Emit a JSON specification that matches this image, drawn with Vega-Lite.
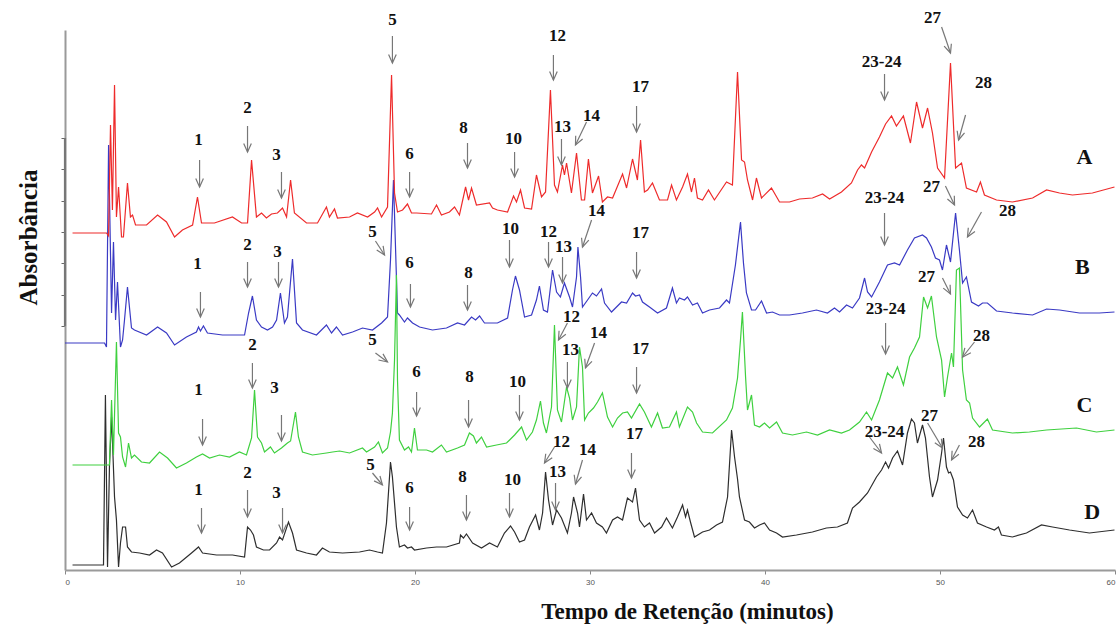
{
"$schema": "https://vega.github.io/schema/vega-lite/v6.json",
"width": 1050, "height": 540,
"autosize": {"type": "none"},
"padding": {"left": 65, "top": 30, "right": 3, "bottom": 57},
"background": "white",
"config": {
 "view": {"stroke": null},
 "axisX": {"grid": false, "domainColor": "#9a9a9a", "domainWidth": 2, "tickColor": "#888", "tickSize": 4, "labelFont": "Liberation Sans", "labelFontSize": 8, "labelColor": "#555", "labelPadding": 4, "titleFont": "Liberation Serif", "titleFontSize": 23, "titleFontWeight": "bold", "titleColor": "#111", "titleX": 622, "titleY": 41, "titleAlign": "center", "titleBaseline": "middle"},
 "axisY": {"grid": false, "domainColor": "#9a9a9a", "domainWidth": 2, "tickColor": "#666", "tickSize": 4, "labels": false, "titleFont": "Liberation Serif", "titleFontSize": 25, "titleFontWeight": "bold", "titleColor": "#111", "titleX": -37, "titleY": 207, "titleAngle": -90, "titleAlign": "center", "titleBaseline": "middle"}
},
"datasets": {
 "A": [{"t":0.43,"v":337},{"t":2.37,"v":337},{"t":2.49,"v":334},{"t":2.6,"v":445},{"t":2.71,"v":360},{"t":2.83,"v":485},{"t":2.94,"v":353},{"t":3.06,"v":383},{"t":3.23,"v":333},{"t":3.34,"v":333},{"t":3.57,"v":387},{"t":3.74,"v":353},{"t":3.86,"v":355},{"t":4.03,"v":345},{"t":4.66,"v":345},{"t":5.29,"v":355},{"t":5.8,"v":348},{"t":6.26,"v":333},{"t":6.71,"v":340},{"t":7.29,"v":345},{"t":7.57,"v":373},{"t":7.8,"v":347},{"t":8.54,"v":347},{"t":9.57,"v":353},{"t":10.09,"v":347},{"t":10.43,"v":347},{"t":10.66,"v":410},{"t":10.94,"v":353},{"t":11.23,"v":357},{"t":11.51,"v":352},{"t":11.8,"v":356},{"t":12.14,"v":357},{"t":12.43,"v":362},{"t":12.66,"v":353},{"t":12.89,"v":390},{"t":13.11,"v":357},{"t":13.8,"v":347},{"t":14.43,"v":347},{"t":14.94,"v":363},{"t":15.11,"v":353},{"t":15.4,"v":361},{"t":15.57,"v":352},{"t":16.26,"v":353},{"t":16.71,"v":357},{"t":17.29,"v":353},{"t":17.69,"v":358},{"t":17.86,"v":362},{"t":18.09,"v":353},{"t":18.43,"v":363},{"t":18.66,"v":495},{"t":18.83,"v":377},{"t":19.0,"v":358},{"t":19.29,"v":360},{"t":19.57,"v":366},{"t":19.8,"v":357},{"t":20.09,"v":357},{"t":20.94,"v":356},{"t":21.23,"v":365},{"t":21.51,"v":355},{"t":21.97,"v":358},{"t":22.26,"v":363},{"t":22.54,"v":355},{"t":22.89,"v":383},{"t":23.06,"v":370},{"t":23.23,"v":382},{"t":23.51,"v":365},{"t":24.26,"v":367},{"t":24.43,"v":362},{"t":24.71,"v":360},{"t":25.29,"v":358},{"t":25.63,"v":374},{"t":25.8,"v":368},{"t":26.03,"v":380},{"t":26.26,"v":362},{"t":26.66,"v":361},{"t":26.94,"v":395},{"t":27.23,"v":373},{"t":27.46,"v":378},{"t":27.74,"v":480},{"t":27.97,"v":385},{"t":28.14,"v":378},{"t":28.43,"v":405},{"t":28.54,"v":395},{"t":28.66,"v":407},{"t":28.94,"v":377},{"t":29.23,"v":417},{"t":29.51,"v":370},{"t":29.69,"v":370},{"t":29.91,"v":411},{"t":30.14,"v":377},{"t":30.49,"v":394},{"t":30.71,"v":368},{"t":31.0,"v":373},{"t":31.29,"v":372},{"t":31.86,"v":396},{"t":32.09,"v":382},{"t":32.43,"v":411},{"t":32.71,"v":390},{"t":32.89,"v":430},{"t":33.11,"v":378},{"t":33.29,"v":380},{"t":33.57,"v":387},{"t":33.97,"v":370},{"t":34.43,"v":370},{"t":34.66,"v":385},{"t":34.94,"v":370},{"t":35.29,"v":383},{"t":35.57,"v":396},{"t":35.8,"v":378},{"t":35.97,"v":392},{"t":36.14,"v":372},{"t":36.43,"v":370},{"t":36.77,"v":380},{"t":37.11,"v":370},{"t":37.8,"v":388},{"t":38.14,"v":385},{"t":38.43,"v":498},{"t":38.66,"v":410},{"t":38.83,"v":408},{"t":39.0,"v":390},{"t":39.29,"v":370},{"t":39.51,"v":392},{"t":39.8,"v":372},{"t":40.37,"v":382},{"t":40.83,"v":368},{"t":41.4,"v":368},{"t":41.97,"v":371},{"t":42.71,"v":372},{"t":43.29,"v":376},{"t":43.69,"v":371},{"t":44.37,"v":378},{"t":44.94,"v":387},{"t":45.29,"v":400},{"t":45.51,"v":405},{"t":45.69,"v":402},{"t":46.09,"v":418},{"t":46.54,"v":433},{"t":46.89,"v":446},{"t":47.23,"v":454},{"t":47.51,"v":444},{"t":47.91,"v":454},{"t":48.31,"v":427},{"t":48.66,"v":468},{"t":49.0,"v":442},{"t":49.29,"v":462},{"t":49.57,"v":437},{"t":49.86,"v":402},{"t":50.26,"v":392},{"t":50.6,"v":507},{"t":50.89,"v":402},{"t":51.23,"v":407},{"t":51.51,"v":382},{"t":52.09,"v":378},{"t":52.31,"v":388},{"t":52.54,"v":375},{"t":53.23,"v":370},{"t":54.14,"v":368},{"t":55.29,"v":372},{"t":56.09,"v":380},{"t":56.83,"v":377},{"t":57.57,"v":375},{"t":58.71,"v":377},{"t":59.97,"v":383}],
 "B": [{"t":0.0,"v":227},{"t":2.26,"v":227},{"t":2.37,"v":223},{"t":2.49,"v":425},{"t":2.66,"v":257},{"t":2.77,"v":328},{"t":2.89,"v":250},{"t":3.0,"v":288},{"t":3.17,"v":223},{"t":3.29,"v":230},{"t":3.4,"v":250},{"t":3.57,"v":283},{"t":3.8,"v":242},{"t":3.97,"v":240},{"t":4.66,"v":235},{"t":5.29,"v":243},{"t":5.8,"v":237},{"t":6.26,"v":225},{"t":6.94,"v":233},{"t":7.51,"v":238},{"t":7.63,"v":243},{"t":7.74,"v":239},{"t":7.91,"v":244},{"t":8.14,"v":237},{"t":9.0,"v":235},{"t":10.26,"v":235},{"t":10.49,"v":257},{"t":10.71,"v":274},{"t":10.94,"v":250},{"t":11.23,"v":243},{"t":11.57,"v":240},{"t":11.86,"v":243},{"t":12.09,"v":250},{"t":12.31,"v":277},{"t":12.54,"v":247},{"t":12.71,"v":253},{"t":13.0,"v":311},{"t":13.23,"v":247},{"t":13.57,"v":240},{"t":14.37,"v":235},{"t":14.94,"v":245},{"t":15.23,"v":237},{"t":15.51,"v":243},{"t":15.86,"v":235},{"t":16.43,"v":238},{"t":17.0,"v":242},{"t":17.57,"v":240},{"t":18.09,"v":247},{"t":18.43,"v":253},{"t":18.6,"v":310},{"t":18.77,"v":390},{"t":19.0,"v":257},{"t":19.11,"v":255},{"t":19.4,"v":248},{"t":19.57,"v":252},{"t":19.86,"v":247},{"t":20.26,"v":243},{"t":21.0,"v":240},{"t":21.8,"v":242},{"t":22.43,"v":247},{"t":22.83,"v":245},{"t":23.23,"v":253},{"t":23.46,"v":250},{"t":23.69,"v":254},{"t":23.97,"v":247},{"t":24.71,"v":247},{"t":25.29,"v":252},{"t":25.57,"v":280},{"t":25.74,"v":294},{"t":25.97,"v":280},{"t":26.26,"v":253},{"t":26.66,"v":255},{"t":26.94,"v":270},{"t":27.11,"v":284},{"t":27.34,"v":260},{"t":27.57,"v":258},{"t":27.86,"v":300},{"t":28.09,"v":278},{"t":28.31,"v":273},{"t":28.54,"v":287},{"t":28.83,"v":273},{"t":29.0,"v":263},{"t":29.23,"v":293},{"t":29.31,"v":323},{"t":29.46,"v":293},{"t":29.57,"v":263},{"t":29.86,"v":270},{"t":30.14,"v":277},{"t":30.37,"v":274},{"t":30.66,"v":281},{"t":30.83,"v":267},{"t":31.23,"v":258},{"t":31.8,"v":268},{"t":32.09,"v":267},{"t":32.43,"v":277},{"t":32.6,"v":274},{"t":32.83,"v":275},{"t":33.0,"v":268},{"t":33.4,"v":263},{"t":33.86,"v":257},{"t":34.37,"v":262},{"t":34.71,"v":282},{"t":34.94,"v":267},{"t":35.11,"v":272},{"t":35.4,"v":270},{"t":35.57,"v":273},{"t":35.86,"v":265},{"t":36.14,"v":267},{"t":36.43,"v":257},{"t":36.83,"v":260},{"t":37.4,"v":262},{"t":37.8,"v":270},{"t":37.97,"v":267},{"t":38.31,"v":305},{"t":38.6,"v":348},{"t":38.77,"v":307},{"t":38.94,"v":277},{"t":39.23,"v":260},{"t":39.46,"v":260},{"t":39.8,"v":269},{"t":40.09,"v":257},{"t":40.43,"v":258},{"t":40.83,"v":255},{"t":41.4,"v":255},{"t":42.14,"v":257},{"t":42.94,"v":260},{"t":43.57,"v":257},{"t":43.97,"v":262},{"t":44.26,"v":258},{"t":44.66,"v":265},{"t":45.0,"v":262},{"t":45.4,"v":272},{"t":45.69,"v":292},{"t":45.86,"v":278},{"t":46.09,"v":273},{"t":46.54,"v":288},{"t":47.0,"v":305},{"t":47.4,"v":307},{"t":47.69,"v":305},{"t":48.14,"v":320},{"t":48.54,"v":332},{"t":49.0,"v":335},{"t":49.23,"v":332},{"t":49.51,"v":323},{"t":49.74,"v":312},{"t":49.97,"v":310},{"t":50.14,"v":300},{"t":50.37,"v":325},{"t":50.6,"v":308},{"t":50.89,"v":357},{"t":51.11,"v":320},{"t":51.29,"v":287},{"t":51.51,"v":293},{"t":51.8,"v":268},{"t":52.2,"v":264},{"t":52.43,"v":267},{"t":52.71,"v":267},{"t":53.23,"v":259},{"t":54.14,"v":257},{"t":55.29,"v":255},{"t":56.09,"v":261},{"t":56.83,"v":260},{"t":57.97,"v":257},{"t":59.11,"v":257},{"t":59.97,"v":258}],
 "C": [{"t":0.43,"v":105},{"t":2.54,"v":105},{"t":2.66,"v":170},{"t":2.77,"v":115},{"t":2.94,"v":228},{"t":3.06,"v":137},{"t":3.17,"v":133},{"t":3.29,"v":113},{"t":3.46,"v":103},{"t":3.63,"v":127},{"t":3.8,"v":112},{"t":3.97,"v":115},{"t":4.37,"v":108},{"t":4.83,"v":107},{"t":5.4,"v":118},{"t":5.86,"v":112},{"t":6.37,"v":102},{"t":6.94,"v":107},{"t":7.51,"v":113},{"t":7.86,"v":116},{"t":8.26,"v":112},{"t":8.83,"v":115},{"t":9.4,"v":113},{"t":9.97,"v":118},{"t":10.37,"v":115},{"t":10.66,"v":132},{"t":10.83,"v":180},{"t":11.0,"v":133},{"t":11.23,"v":127},{"t":11.4,"v":118},{"t":11.74,"v":123},{"t":11.97,"v":117},{"t":12.37,"v":122},{"t":12.71,"v":127},{"t":12.89,"v":129},{"t":13.17,"v":158},{"t":13.34,"v":133},{"t":13.57,"v":118},{"t":14.14,"v":115},{"t":14.94,"v":117},{"t":15.29,"v":118},{"t":15.69,"v":119},{"t":16.26,"v":117},{"t":17.0,"v":122},{"t":17.23,"v":118},{"t":17.69,"v":123},{"t":17.91,"v":128},{"t":18.14,"v":117},{"t":18.43,"v":122},{"t":18.6,"v":138},{"t":18.71,"v":157},{"t":18.83,"v":210},{"t":18.94,"v":295},{"t":19.0,"v":190},{"t":19.11,"v":130},{"t":19.4,"v":120},{"t":19.63,"v":123},{"t":19.8,"v":118},{"t":19.97,"v":142},{"t":20.14,"v":120},{"t":20.66,"v":120},{"t":21.0,"v":118},{"t":21.51,"v":125},{"t":21.8,"v":118},{"t":22.43,"v":122},{"t":22.83,"v":125},{"t":23.11,"v":137},{"t":23.34,"v":134},{"t":23.51,"v":127},{"t":23.8,"v":133},{"t":24.09,"v":123},{"t":24.66,"v":125},{"t":25.23,"v":127},{"t":25.69,"v":135},{"t":26.09,"v":143},{"t":26.37,"v":130},{"t":26.71,"v":138},{"t":26.94,"v":150},{"t":27.17,"v":169},{"t":27.34,"v":147},{"t":27.51,"v":137},{"t":27.8,"v":163},{"t":27.97,"v":245},{"t":28.14,"v":160},{"t":28.37,"v":148},{"t":28.66,"v":183},{"t":28.83,"v":172},{"t":29.0,"v":150},{"t":29.23,"v":163},{"t":29.4,"v":223},{"t":29.57,"v":203},{"t":29.69,"v":150},{"t":29.91,"v":157},{"t":30.2,"v":162},{"t":30.43,"v":168},{"t":30.71,"v":177},{"t":31.0,"v":153},{"t":31.29,"v":143},{"t":31.57,"v":152},{"t":31.86,"v":157},{"t":32.14,"v":158},{"t":32.37,"v":152},{"t":32.83,"v":166},{"t":33.11,"v":158},{"t":33.51,"v":143},{"t":33.86,"v":157},{"t":34.14,"v":142},{"t":34.54,"v":143},{"t":34.94,"v":158},{"t":35.11,"v":143},{"t":35.57,"v":163},{"t":35.86,"v":158},{"t":36.09,"v":147},{"t":36.43,"v":138},{"t":37.0,"v":137},{"t":37.8,"v":150},{"t":38.14,"v":162},{"t":38.43,"v":192},{"t":38.6,"v":230},{"t":38.71,"v":258},{"t":38.89,"v":193},{"t":39.0,"v":160},{"t":39.23,"v":175},{"t":39.4,"v":145},{"t":39.69,"v":143},{"t":39.97,"v":147},{"t":40.26,"v":142},{"t":40.66,"v":148},{"t":41.0,"v":137},{"t":41.57,"v":135},{"t":42.37,"v":138},{"t":43.0,"v":135},{"t":43.69,"v":140},{"t":44.37,"v":137},{"t":44.83,"v":140},{"t":45.4,"v":148},{"t":45.8,"v":158},{"t":46.09,"v":150},{"t":46.54,"v":170},{"t":47.0,"v":197},{"t":47.29,"v":192},{"t":47.57,"v":203},{"t":47.91,"v":185},{"t":48.26,"v":213},{"t":48.54,"v":222},{"t":48.83,"v":233},{"t":49.06,"v":273},{"t":49.29,"v":262},{"t":49.51,"v":274},{"t":49.8,"v":233},{"t":50.09,"v":210},{"t":50.26,"v":173},{"t":50.43,"v":193},{"t":50.66,"v":217},{"t":50.77,"v":203},{"t":50.94,"v":300},{"t":51.11,"v":302},{"t":51.29,"v":200},{"t":51.51,"v":170},{"t":51.69,"v":167},{"t":51.86,"v":152},{"t":52.26,"v":143},{"t":52.71,"v":151},{"t":53.0,"v":140},{"t":54.14,"v":137},{"t":55.11,"v":138},{"t":56.09,"v":140},{"t":57.8,"v":142},{"t":58.94,"v":138},{"t":59.97,"v":140}],
 "D": [{"t":0.43,"v":5},{"t":2.2,"v":5},{"t":2.31,"v":175},{"t":2.43,"v":3},{"t":2.54,"v":103},{"t":2.66,"v":153},{"t":2.71,"v":130},{"t":2.83,"v":73},{"t":2.94,"v":50},{"t":3.06,"v":3},{"t":3.17,"v":27},{"t":3.29,"v":43},{"t":3.46,"v":43},{"t":3.57,"v":23},{"t":3.8,"v":18},{"t":4.26,"v":17},{"t":4.83,"v":15},{"t":5.23,"v":20},{"t":5.57,"v":17},{"t":6.09,"v":3},{"t":6.54,"v":7},{"t":7.23,"v":17},{"t":7.63,"v":23},{"t":7.86,"v":17},{"t":8.66,"v":15},{"t":9.57,"v":15},{"t":10.26,"v":13},{"t":10.43,"v":43},{"t":10.6,"v":40},{"t":10.77,"v":35},{"t":10.94,"v":23},{"t":11.34,"v":20},{"t":11.69,"v":20},{"t":12.09,"v":27},{"t":12.26,"v":33},{"t":12.43,"v":30},{"t":12.77,"v":48},{"t":13.0,"v":37},{"t":13.23,"v":20},{"t":13.8,"v":17},{"t":14.37,"v":15},{"t":14.71,"v":22},{"t":15.11,"v":18},{"t":15.86,"v":17},{"t":16.83,"v":18},{"t":17.4,"v":20},{"t":17.86,"v":18},{"t":18.14,"v":17},{"t":18.37,"v":47},{"t":18.6,"v":108},{"t":18.71,"v":93},{"t":18.94,"v":43},{"t":19.11,"v":23},{"t":19.4,"v":25},{"t":19.57,"v":22},{"t":19.8,"v":23},{"t":19.97,"v":20},{"t":20.66,"v":22},{"t":21.23,"v":23},{"t":21.8,"v":23},{"t":22.54,"v":27},{"t":22.6,"v":35},{"t":22.77,"v":32},{"t":22.94,"v":36},{"t":23.29,"v":27},{"t":23.8,"v":22},{"t":24.26,"v":27},{"t":24.71,"v":23},{"t":25.11,"v":37},{"t":25.46,"v":44},{"t":25.69,"v":38},{"t":25.97,"v":28},{"t":26.26,"v":30},{"t":26.54,"v":43},{"t":26.89,"v":55},{"t":27.11,"v":40},{"t":27.29,"v":57},{"t":27.46,"v":98},{"t":27.63,"v":70},{"t":27.86,"v":45},{"t":28.09,"v":60},{"t":28.37,"v":52},{"t":28.71,"v":37},{"t":28.94,"v":57},{"t":29.06,"v":73},{"t":29.29,"v":57},{"t":29.4,"v":43},{"t":29.63,"v":76},{"t":29.8,"v":50},{"t":30.09,"v":57},{"t":30.37,"v":47},{"t":30.71,"v":43},{"t":30.94,"v":37},{"t":31.29,"v":50},{"t":31.57,"v":53},{"t":31.86,"v":50},{"t":32.14,"v":72},{"t":32.43,"v":68},{"t":32.6,"v":82},{"t":32.83,"v":50},{"t":33.11,"v":43},{"t":33.4,"v":47},{"t":33.69,"v":37},{"t":34.09,"v":43},{"t":34.37,"v":52},{"t":34.71,"v":42},{"t":35.0,"v":53},{"t":35.29,"v":65},{"t":35.46,"v":53},{"t":35.57,"v":60},{"t":35.74,"v":48},{"t":35.97,"v":33},{"t":36.43,"v":38},{"t":36.83,"v":40},{"t":37.23,"v":45},{"t":37.57,"v":48},{"t":37.86,"v":73},{"t":38.09,"v":140},{"t":38.26,"v":113},{"t":38.43,"v":91},{"t":38.54,"v":73},{"t":38.83,"v":50},{"t":39.11,"v":48},{"t":39.4,"v":42},{"t":39.69,"v":45},{"t":39.97,"v":47},{"t":40.26,"v":40},{"t":40.66,"v":37},{"t":41.0,"v":33},{"t":41.8,"v":35},{"t":42.71,"v":38},{"t":43.51,"v":42},{"t":44.14,"v":43},{"t":44.71,"v":47},{"t":45.0,"v":62},{"t":45.4,"v":68},{"t":45.86,"v":77},{"t":46.37,"v":93},{"t":46.66,"v":100},{"t":46.89,"v":108},{"t":47.06,"v":102},{"t":47.29,"v":112},{"t":47.57,"v":119},{"t":47.86,"v":105},{"t":48.14,"v":137},{"t":48.37,"v":151},{"t":48.54,"v":147},{"t":48.71,"v":127},{"t":49.0,"v":145},{"t":49.17,"v":132},{"t":49.4,"v":93},{"t":49.57,"v":73},{"t":49.86,"v":90},{"t":50.09,"v":117},{"t":50.2,"v":132},{"t":50.37,"v":103},{"t":50.49,"v":97},{"t":50.6,"v":98},{"t":50.77,"v":90},{"t":51.0,"v":63},{"t":51.29,"v":55},{"t":51.57,"v":52},{"t":51.86,"v":60},{"t":52.14,"v":47},{"t":52.66,"v":43},{"t":53.11,"v":40},{"t":53.34,"v":43},{"t":53.51,"v":35},{"t":54.14,"v":33},{"t":54.94,"v":37},{"t":55.8,"v":45},{"t":56.43,"v":43},{"t":57.4,"v":40},{"t":58.54,"v":37},{"t":59.97,"v":40}],
 "ann": [
  {"lab":"1","tx":7.63,"ty":430,"ax":7.69,"ay":410,"bx":7.69,"by":383},
  {"lab":"2","tx":10.43,"ty":462,"ax":10.43,"ay":444,"bx":10.43,"by":418},
  {"lab":"3","tx":12.09,"ty":415,"ax":12.37,"ay":398,"bx":12.37,"by":372},
  {"lab":"5","tx":18.71,"ty":550,"ax":18.71,"ay":534,"bx":18.71,"by":507},
  {"lab":"6","tx":19.69,"ty":416,"ax":19.69,"ay":398,"bx":19.69,"by":373},
  {"lab":"8","tx":22.77,"ty":442,"ax":23.0,"ay":427,"bx":23.0,"by":402},
  {"lab":"10","tx":25.63,"ty":431,"ax":25.69,"ay":418,"bx":25.69,"by":393},
  {"lab":"12","tx":28.14,"ty":534,"ax":27.91,"ay":515,"bx":27.91,"by":490},
  {"lab":"13","tx":28.43,"ty":443,"ax":28.37,"ay":431,"bx":28.37,"by":405},
  {"lab":"14","tx":30.09,"ty":454,"ax":29.8,"ay":448,"bx":29.17,"by":425},
  {"lab":"17","tx":32.89,"ty":483,"ax":32.66,"ay":464,"bx":32.66,"by":438},
  {"lab":"23-24","tx":46.66,"ty":508,"ax":46.83,"ay":496,"bx":46.83,"by":470},
  {"lab":"27","tx":49.57,"ty":552,"ax":50.09,"ay":543,"bx":50.6,"by":517},
  {"lab":"28","tx":52.49,"ty":487,"ax":51.46,"ay":455,"bx":51.06,"by":430},
  {"lab":"1","tx":7.57,"ty":306,"ax":7.74,"ay":278,"bx":7.74,"by":253},
  {"lab":"2","tx":10.43,"ty":325,"ax":10.43,"ay":308,"bx":10.43,"by":283},
  {"lab":"3","tx":12.14,"ty":318,"ax":12.2,"ay":308,"bx":12.2,"by":283},
  {"lab":"5","tx":17.57,"ty":338,"ax":17.74,"ay":329,"bx":18.26,"by":315},
  {"lab":"6","tx":19.69,"ty":307,"ax":19.74,"ay":286,"bx":19.74,"by":263},
  {"lab":"8","tx":23.06,"ty":297,"ax":23.0,"ay":285,"bx":23.0,"by":260},
  {"lab":"10","tx":25.46,"ty":341,"ax":25.4,"ay":330,"bx":25.4,"by":303},
  {"lab":"12","tx":27.63,"ty":338,"ax":27.63,"ay":328,"bx":27.63,"by":303},
  {"lab":"13","tx":28.49,"ty":323,"ax":28.43,"ay":313,"bx":28.43,"by":287},
  {"lab":"14","tx":30.37,"ty":359,"ax":30.09,"ay":350,"bx":29.57,"by":323},
  {"lab":"17","tx":32.89,"ty":337,"ax":32.66,"ay":318,"bx":32.66,"by":292},
  {"lab":"23-24","tx":46.83,"ty":372,"ax":46.83,"ay":357,"bx":46.83,"by":325},
  {"lab":"27","tx":49.51,"ty":383,"ax":50.31,"ay":384,"bx":50.83,"by":365},
  {"lab":"28","tx":53.86,"ty":359,"ax":52.37,"ay":358,"bx":51.57,"by":333},
  {"lab":"1","tx":7.63,"ty":180,"ax":7.86,"ay":151,"bx":7.86,"by":125},
  {"lab":"2","tx":10.71,"ty":225,"ax":10.71,"ay":207,"bx":10.71,"by":182},
  {"lab":"3","tx":11.97,"ty":182,"ax":12.37,"ay":155,"bx":12.37,"by":129},
  {"lab":"5","tx":17.57,"ty":230,"ax":17.74,"ay":217,"bx":18.43,"by":208},
  {"lab":"6","tx":20.09,"ty":198,"ax":20.09,"ay":178,"bx":20.09,"by":154},
  {"lab":"8","tx":23.11,"ty":193,"ax":23.06,"ay":170,"bx":23.06,"by":143},
  {"lab":"10","tx":25.86,"ty":188,"ax":25.97,"ay":175,"bx":25.97,"by":150},
  {"lab":"12","tx":28.94,"ty":253,"ax":28.71,"ay":247,"bx":28.2,"by":230},
  {"lab":"13","tx":28.89,"ty":220,"ax":28.71,"ay":208,"bx":28.71,"by":182},
  {"lab":"14","tx":30.49,"ty":237,"ax":30.26,"ay":227,"bx":29.74,"by":202},
  {"lab":"17","tx":32.89,"ty":221,"ax":32.66,"ay":203,"bx":32.66,"by":177},
  {"lab":"23-24","tx":46.89,"ty":261,"ax":46.89,"ay":247,"bx":46.89,"by":216},
  {"lab":"27","tx":49.23,"ty":293,"ax":50.14,"ay":292,"bx":50.6,"by":276},
  {"lab":"28","tx":52.37,"ty":234,"ax":51.97,"ay":228,"bx":51.29,"by":213},
  {"lab":"1","tx":7.63,"ty":80,"ax":7.8,"ay":62,"bx":7.8,"by":37},
  {"lab":"2","tx":10.43,"ty":97,"ax":10.43,"ay":80,"bx":10.43,"by":53},
  {"lab":"3","tx":12.09,"ty":77,"ax":12.43,"ay":62,"bx":12.43,"by":37},
  {"lab":"5","tx":17.46,"ty":105,"ax":17.57,"ay":97,"bx":18.14,"by":85},
  {"lab":"6","tx":19.69,"ty":82,"ax":19.69,"ay":63,"bx":19.69,"by":40},
  {"lab":"8","tx":22.71,"ty":93,"ax":22.94,"ay":75,"bx":22.94,"by":50},
  {"lab":"10","tx":25.57,"ty":90,"ax":25.4,"ay":77,"bx":25.4,"by":53},
  {"lab":"12","tx":28.37,"ty":128,"ax":27.97,"ay":123,"bx":27.4,"by":107},
  {"lab":"13","tx":28.14,"ty":98,"ax":28.03,"ay":87,"bx":28.03,"by":60},
  {"lab":"14","tx":29.86,"ty":120,"ax":29.57,"ay":110,"bx":29.17,"by":86},
  {"lab":"17","tx":32.54,"ty":136,"ax":32.37,"ay":117,"bx":32.37,"by":92},
  {"lab":"23-24","tx":46.83,"ty":138,"ax":45.97,"ay":133,"bx":46.66,"by":117},
  {"lab":"27","tx":49.4,"ty":154,"ax":49.29,"ay":147,"bx":50.14,"by":122},
  {"lab":"28","tx":52.09,"ty":128,"ax":51.11,"ay":125,"bx":50.66,"by":110}
 ],
 "series": [
  {"lab":"A","x":58.26,"y":413},
  {"lab":"B","x":58.14,"y":303},
  {"lab":"C","x":58.26,"y":165},
  {"lab":"D","x":58.7,"y":58}
 ]
},
"layer": [
 {
  "data": {"name": "D"},
  "mark": {"type": "line", "color": "#2e2e2e", "strokeWidth": 1.2},
  "encoding": {
   "x": {"field": "t", "type": "quantitative", "scale": {"domain": [0, 60], "nice": false}, "title": "Tempo de Retenção (minutos)", "axis": {"values": [0, 10, 20, 30, 40, 50, 60]}},
   "y": {"field": "v", "type": "quantitative", "scale": {"domain": [0, 540], "nice": false}, "title": "Absorbância", "axis": {"values": [244, 275, 307, 338, 369, 401, 432]}}
  }
 },
 {
  "data": {"values": [{}]},
  "mark": {"type": "rule", "color": "#777", "strokeWidth": 2.2},
  "encoding": {
   "x": {"datum": 0, "type": "quantitative"},
   "y": {"datum": 244, "type": "quantitative"},
   "y2": {"datum": 432}
  }
 },
 {
  "data": {"name": "B"},
  "mark": {"type": "line", "color": "#3a3ac4", "strokeWidth": 1.2},
  "encoding": {
   "x": {"field": "t", "type": "quantitative", "title": "Tempo de Retenção (minutos)"},
   "y": {"field": "v", "type": "quantitative", "title": "Absorbância"}
  }
 },
 {
  "data": {"name": "C"},
  "mark": {"type": "line", "color": "#3fd03f", "strokeWidth": 1.2},
  "encoding": {
   "x": {"field": "t", "type": "quantitative", "title": "Tempo de Retenção (minutos)"},
   "y": {"field": "v", "type": "quantitative", "title": "Absorbância"}
  }
 },
 {
  "data": {"name": "A"},
  "mark": {"type": "line", "color": "#ee2b2b", "strokeWidth": 1.2},
  "encoding": {
   "x": {"field": "t", "type": "quantitative", "title": "Tempo de Retenção (minutos)"},
   "y": {"field": "v", "type": "quantitative", "title": "Absorbância"}
  }
 },
 {
  "data": {"name": "ann"},
  "mark": {"type": "rule", "color": "#777", "strokeWidth": 1.2},
  "encoding": {
   "x": {"field": "ax", "type": "quantitative", "title": "Tempo de Retenção (minutos)"},
   "y": {"field": "ay", "type": "quantitative", "title": "Absorbância"},
   "x2": {"field": "bx"},
   "y2": {"field": "by"}
  }
 },
 {
  "data": {"name": "ann"},
  "transform": [{"calculate": "atan2(-(datum.bx - datum.ax) * 17.5, datum.ay - datum.by) * 180 / PI", "as": "ang"}],
  "mark": {"type": "point", "shape": "M-0.45,-1L0,0L0.45,-1", "filled": false, "color": "#777", "strokeWidth": 1.2, "size": 289, "opacity": 1},
  "encoding": {
   "x": {"field": "bx", "type": "quantitative", "title": "Tempo de Retenção (minutos)"},
   "y": {"field": "by", "type": "quantitative", "title": "Absorbância"},
   "angle": {"field": "ang", "type": "quantitative", "scale": null}
  }
 },
 {
  "data": {"name": "ann"},
  "mark": {"type": "text", "font": "Liberation Serif", "fontWeight": "bold", "fontSize": 17, "color": "#111", "align": "center", "baseline": "middle"},
  "encoding": {
   "x": {"field": "tx", "type": "quantitative", "title": "Tempo de Retenção (minutos)"},
   "y": {"field": "ty", "type": "quantitative", "title": "Absorbância"},
   "text": {"field": "lab"}
  }
 },
 {
  "data": {"name": "series"},
  "mark": {"type": "text", "font": "Liberation Serif", "fontWeight": "bold", "fontSize": 22, "color": "#111", "align": "center", "baseline": "middle"},
  "encoding": {
   "x": {"field": "x", "type": "quantitative", "title": "Tempo de Retenção (minutos)"},
   "y": {"field": "y", "type": "quantitative", "title": "Absorbância"},
   "text": {"field": "lab"}
  }
 }
]
}
